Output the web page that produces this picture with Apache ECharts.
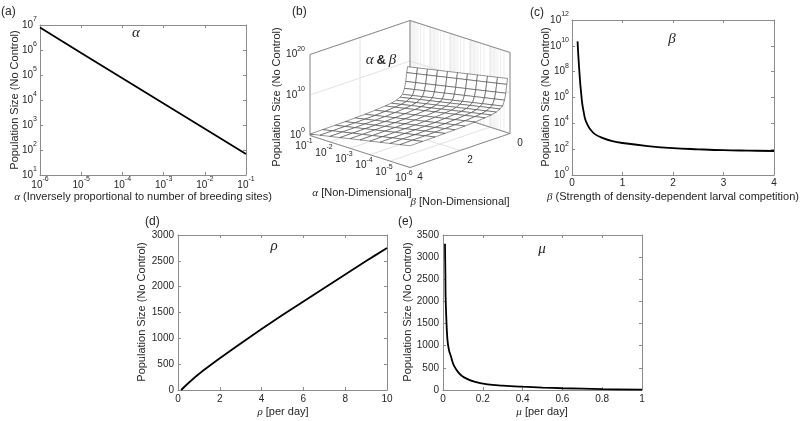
<!DOCTYPE html>
<html><head><meta charset="utf-8">
<script src="https://cdn.jsdelivr.net/npm/echarts@6/dist/echarts.min.js"></script>
<style>html,body{margin:0;padding:0;background:#fff}#c{width:800px;height:421px}</style>
</head><body><div id="c"></div>
<script>
// ---------------- DATA ----------------
// (a) population vs alpha (log-log)
const alphaA = [1e-6, 1e-5, 1e-4, 1e-3, 1e-2, 1e-1];
const popA = [7.9e6, 7.6e5, 7.4e4, 7.2e3, 7.1e2, 69];

// (c) population vs beta (log y)
const betaC = [0.11, 0.12, 0.13, 0.15, 0.165, 0.18, 0.2, 0.23, 0.26, 0.3, 0.36, 0.46, 0.6, 0.8, 1.0, 1.5, 2.0, 2.5, 3.0, 3.5, 4.0];
const popC = [2.2e10, 4e9, 9e8, 6e7, 1e7, 2.5e6, 4e5, 8e4, 2.2e4, 9e3, 3.5e3, 1.4e3, 760, 420, 300, 175, 120, 98, 83, 77, 72];

// (d) population vs rho
const rhoD = [0.15, 0.5, 1, 2, 3, 4, 5, 6, 7, 8, 9, 10];
const popD = [0, 135, 310, 613, 900, 1180, 1450, 1715, 1975, 2235, 2495, 2750];

// (e) population vs mu
const muE = [0.01, 0.012, 0.013, 0.016, 0.022, 0.03, 0.039, 0.055, 0.08, 0.106, 0.157, 0.224, 0.3, 0.4, 0.5, 0.6, 0.8, 1.0];
const popE = [3300, 2600, 2125, 1700, 1150, 900, 773, 548, 383, 285, 188, 128, 100, 75, 55, 40, 20, 8];

// (b) surface: log10(population) over alpha exponent (columns) and beta (rows)
const surfAlphaExp = [-6, -5.5, -5, -4.5, -4, -3.5, -3, -2.5, -2, -1.5, -1];
const surfBeta = [0.1, 0.13, 0.17, 0.22, 0.3, 0.4, 0.55, 0.75, 1.0, 1.4, 1.8, 2.2, 2.6, 3.0, 3.5, 4.0];
const surfLogN = [
  [13.8, 13.3, 12.8, 12.3, 11.8, 11.3, 10.8, 10.3, 9.8, 9.3, 8.8],
  [12.4, 11.9, 11.4, 10.9, 10.4, 9.9, 9.4, 8.9, 8.4, 7.9, 7.4],
  [10.3, 9.8, 9.3, 8.8, 8.3, 7.8, 7.3, 6.8, 6.3, 5.8, 5.3],
  [8.7, 8.2, 7.7, 7.2, 6.7, 6.2, 5.7, 5.2, 4.7, 4.2, 3.7],
  [7.4, 6.9, 6.4, 5.9, 5.4, 4.9, 4.4, 3.9, 3.4, 2.9, 2.4],
  [6.9, 6.4, 5.9, 5.4, 4.9, 4.4, 3.9, 3.4, 2.9, 2.4, 1.9],
  [6.45, 5.95, 5.45, 4.95, 4.45, 3.95, 3.45, 2.95, 2.45, 1.95, 1.45],
  [6.15, 5.65, 5.15, 4.65, 4.15, 3.65, 3.15, 2.65, 2.15, 1.65, 1.15],
  [5.98, 5.48, 4.98, 4.48, 3.98, 3.48, 2.98, 2.48, 1.98, 1.48, 0.98],
  [5.78, 5.28, 4.78, 4.28, 3.78, 3.28, 2.78, 2.28, 1.78, 1.28, 0.78],
  [5.63, 5.13, 4.63, 4.13, 3.63, 3.13, 2.63, 2.13, 1.63, 1.13, 0.63],
  [5.54, 5.04, 4.54, 4.04, 3.54, 3.04, 2.54, 2.04, 1.54, 1.04, 0.54],
  [5.48, 4.98, 4.48, 3.98, 3.48, 2.98, 2.48, 1.98, 1.48, 0.98, 0.48],
  [5.43, 4.93, 4.43, 3.93, 3.43, 2.93, 2.43, 1.93, 1.43, 0.93, 0.43],
  [5.39, 4.89, 4.39, 3.89, 3.39, 2.89, 2.39, 1.89, 1.39, 0.89, 0.39],
  [5.36, 4.86, 4.36, 3.86, 3.36, 2.86, 2.36, 1.86, 1.36, 0.86, 0.36]
];
const zTicksB = [0, 10, 20];
const alphaTicksB = [-1, -2, -3, -4, -5, -6];
const betaTicksB = [0, 2, 4];

// ---------------- STYLE ----------------
const TXT = '#262626', FRAME = '#8c8c8c', GRIDC = '#e2e2e2', MINC = '#efefef';
const FONT = 'Liberation Sans, Arial, sans-serif';
const SERIF = 'Liberation Serif, DejaVu Serif, serif';

function supFmt(v) { const e = Math.round(Math.log10(v)); return '{b|10}{s|' + e + '}'; }
function plainFmt(v) { return String(v); }
const richSup = {
  b: {fontSize: 10, fontFamily: FONT, color: TXT, lineHeight: 18, verticalAlign: 'middle'},
  s: {fontSize: 7, fontFamily: FONT, color: TXT, verticalAlign: 'top'}
};
const richSupG = {
  b: {fontSize: 10, fontFamily: FONT, fill: TXT, lineHeight: 18, verticalAlign: 'middle'},
  s: {fontSize: 7, fontFamily: FONT, fill: TXT, verticalAlign: 'top'}
};

const grids = [
  {left: 40, top: 25, width: 206, height: 150},   // a
  {left: 572, top: 20, width: 202, height: 155},  // c
  {left: 178, top: 235, width: 209, height: 155}, // d
  {left: 443, top: 235, width: 199, height: 155}, // e
  {left: 0, top: 0, width: 800, height: 421}      // b (projection plane)
];

const xSpecs = [
  {type: 'log', min: 1e-6, max: 1e-1, logBase: 10, fmt: supFmt, margin: 1},
  {type: 'value', min: 0, max: 4, interval: 1, fmt: plainFmt, margin: 3},
  {type: 'value', min: 0, max: 10, interval: 2, fmt: plainFmt, margin: 4},
  {type: 'value', min: 0, max: 1, interval: 0.2, fmt: plainFmt, margin: 4}
];
const ySpecs = [
  {type: 'log', min: 10, max: 1e7, logBase: 10, fmt: supFmt, margin: 3},
  {type: 'log', min: 1, max: 1e12, logBase: 100, fmt: supFmt, margin: 3},
  {type: 'value', min: 0, max: 3000, interval: 500, fmt: plainFmt, margin: 4},
  {type: 'value', min: 0, max: 3500, interval: 500, fmt: plainFmt, margin: 4}
];

function mkAxis(spec, gi, pos, withLabels) {
  const a = {
    type: spec.type, min: spec.min, max: spec.max, gridIndex: gi, position: pos,
    axisLine: {show: true, onZero: false, lineStyle: {color: FRAME, width: 1}},
    axisTick: {show: true, inside: true, length: 3, lineStyle: {color: FRAME}},
    splitLine: {show: false},
    axisLabel: {show: false}
  };
  if (spec.logBase) a.logBase = spec.logBase;
  if (spec.interval) a.interval = spec.interval;
  if (withLabels) {
    a.axisLabel = {show: true, color: TXT, fontSize: 10, fontFamily: FONT, margin: spec.margin, formatter: spec.fmt};
    if (spec.type === 'log') a.axisLabel.rich = richSup;
  }
  return a;
}
const xAxis = [], yAxis = [];
for (let g = 0; g < 4; g++) {
  xAxis.push(mkAxis(xSpecs[g], g, 'bottom', true));
  xAxis.push(mkAxis(xSpecs[g], g, 'top', false));
  yAxis.push(mkAxis(ySpecs[g], g, 'left', true));
  yAxis.push(mkAxis(ySpecs[g], g, 'right', false));
}
xAxis.push({type: 'value', gridIndex: 4, min: 0, max: 800, show: false});
yAxis.push({type: 'value', gridIndex: 4, min: 0, max: 421, inverse: true, show: false});

function zip(a, b) { return a.map((v, i) => [v, b[i]]); }
function lineSeries(xi, yi, data, smooth) {
  return {type: 'line', xAxisIndex: xi, yAxisIndex: yi, data: data, showSymbol: false, symbol: 'none',
          smooth: smooth || false, lineStyle: {color: '#000', width: 1.8}, silent: true, z: 5};
}

// ---------------- (b) oblique projection ----------------
function projB(ae, b, z) {
  const u = (-1 - ae) / 5, v = b / 4;
  return [410 + 100 * u - 100 * v, 101.5 + 32 * u + 34 * v - z * 81 / 20];
}
const backSegs = [], frontSegs = [];
function seg(list, p, q, color, w) { list.push({p: p, q: q, color: color, w: w}); }
for (let d = -6; d < -1; d++) for (let k = 2; k <= 9; k++) {
  const ae = d + Math.log10(k);
  seg(backSegs, projB(ae, 0, 0), projB(ae, 0, 20), MINC, 1);
}
alphaTicksB.forEach(ae => {
  seg(backSegs, projB(ae, 0, 0), projB(ae, 0, 20), GRIDC, 1);
  seg(backSegs, projB(ae, 0, 0), projB(ae, 4, 0), GRIDC, 1);
});
betaTicksB.forEach(b => {
  seg(backSegs, projB(-1, b, 0), projB(-1, b, 20), GRIDC, 1);
  seg(backSegs, projB(-1, b, 0), projB(-6, b, 0), GRIDC, 1);
});
zTicksB.forEach(z => {
  seg(backSegs, projB(-1, 0, z), projB(-1, 4, z), GRIDC, 1);
  seg(backSegs, projB(-1, 0, z), projB(-6, 0, z), GRIDC, 1);
});
[[-1, 4], [-1, 0], [-6, 0]].forEach(([ae, b]) => seg(backSegs, projB(ae, b, 0), projB(ae, b, 20), FRAME, 1));
seg(backSegs, projB(-1, 4, 20), projB(-1, 0, 20), FRAME, 1);
seg(backSegs, projB(-1, 0, 20), projB(-6, 0, 20), FRAME, 1);
seg(backSegs, projB(-1, 4, 0), projB(-1, 0, 0), FRAME, 1);
seg(backSegs, projB(-1, 0, 0), projB(-6, 0, 0), FRAME, 1);
seg(frontSegs, projB(-1, 4, 0), projB(-6, 4, 0), FRAME, 1);
seg(frontSegs, projB(-6, 4, 0), projB(-6, 0, 0), FRAME, 1);

function segSeries(list, z) {
  return {type: 'custom', coordinateSystem: 'cartesian2d', xAxisIndex: 8, yAxisIndex: 8, silent: true, clip: false, z: z,
    data: list.map((s, i) => [i, 0]),
    renderItem: (params, api) => {
      const s = list[params.dataIndex];
      const a = api.coord(s.p), b = api.coord(s.q);
      return {type: 'line', shape: {x1: a[0], y1: a[1], x2: b[0], y2: b[1]}, style: {stroke: s.color, lineWidth: s.w}};
    }};
}
const cells = [];
for (let i = 0; i < surfBeta.length - 1; i++) for (let j = 0; j < surfAlphaExp.length - 1; j++) cells.push([i, j]);
function depth(c) {
  const ae = (surfAlphaExp[c[1]] + surfAlphaExp[c[1] + 1]) / 2, b = (surfBeta[c[0]] + surfBeta[c[0] + 1]) / 2;
  return 32 * (-1 - ae) / 5 + 34 * b / 4;
}
cells.sort((p, q) => depth(p) - depth(q));
const surfSeries = {
  type: 'custom', coordinateSystem: 'cartesian2d', xAxisIndex: 8, yAxisIndex: 8, silent: true, clip: false, z: 3,
  data: cells,
  renderItem: (params, api) => {
    const c = cells[params.dataIndex], i = c[0], j = c[1];
    const pts = [[i, j], [i, j + 1], [i + 1, j + 1], [i + 1, j]].map(([r, k]) =>
      api.coord(projB(surfAlphaExp[k], surfBeta[r], surfLogN[r][k])));
    return {type: 'polygon', shape: {points: pts}, style: {fill: '#fff', stroke: '#3a3a3a', lineWidth: 0.55}};
  }
};

// ---------------- TEXT ----------------
const G = [];
function txt(x, y, text, o) {
  o = o || {};
  G.push({type: 'text', x: x, y: y, rotation: o.rot || 0, silent: true, z: 100,
    style: {text: text, fill: TXT, fontSize: o.size || 10, fontFamily: o.family || FONT,
      fontStyle: o.style || 'normal', fontWeight: o.weight || 'normal',
      align: o.align || 'center', verticalAlign: o.va || 'middle',
      textAlign: o.align || 'center', textVerticalAlign: o.va || 'middle', rich: o.rich}});
}
const richG = {
  g: {fontFamily: SERIF, fontStyle: 'italic', fontSize: 11, fill: TXT},
  t: {fontFamily: FONT, fontSize: 11, fill: TXT}
};
const richTitle = {
  g: {fontFamily: SERIF, fontStyle: 'italic', fontSize: 15, fill: TXT},
  a: {fontFamily: FONT, fontWeight: 'bold', fontSize: 13, fill: TXT}
};
txt(1, 12, '(a)', {size: 12, align: 'left'});
txt(292, 12, '(b)', {size: 12, align: 'left'});
txt(530, 13, '(c)', {size: 12, align: 'left'});
txt(145, 222, '(d)', {size: 12, align: 'left'});
txt(398, 222, '(e)', {size: 12, align: 'left'});
txt(136, 33, '{g|α}', {rich: richTitle});
txt(672, 39, '{g|β}', {rich: richTitle});
txt(274, 246, '{g|ρ}', {rich: richTitle});
txt(542, 249, '{g|μ}', {rich: richTitle});
txt(381, 60, '{g|α} {a|&} {g|β}', {rich: richTitle});
const YT = 'Population Size (No Control)';
txt(15, 100, YT, {size: 11, rot: Math.PI / 2});
txt(546, 97, YT, {size: 11, rot: Math.PI / 2});
txt(142, 312, YT, {size: 11, rot: Math.PI / 2});
txt(408, 312, YT, {size: 11, rot: Math.PI / 2});
txt(277, 97, YT, {size: 11, rot: Math.PI / 2});
txt(143, 197, '{g|α}{t| (Inversely proportional to number of breeding sites)}', {rich: richG});
txt(673, 197, '{g|β}{t| (Strength of density-dependent larval competition)}', {rich: richG});
txt(283, 412, '{g|ρ}{t| [per day]}', {rich: richG});
txt(542, 412, '{g|μ}{t| [per day]}', {rich: richG});
txt(362, 193, '{g|α}{t| [Non-Dimensional]}', {rich: richG});
txt(460, 202, '{g|β}{t| [Non-Dimensional]}', {rich: richG});
zTicksB.forEach(z => { const p = projB(-1, 4, z); txt(p[0] - 5, p[1], '{b|10}{s|' + z + '}', {align: 'right', rich: richSupG}); });
alphaTicksB.forEach(ae => { const p = projB(ae, 4, 0); txt(p[0] - 6, p[1] + 11, '{b|10}{s|' + ae + '}', {rich: richSupG}); });
betaTicksB.forEach(b => { const p = projB(-6, b, 0); txt(p[0] + 10, p[1] + 10, String(b), {}); });

const option = {
  animation: false,
  backgroundColor: '#fff',
  grid: grids,
  xAxis: xAxis,
  yAxis: yAxis,
  series: [
    lineSeries(0, 0, zip(alphaA, popA), false),
    lineSeries(2, 2, zip(betaC, popC), 0.4),
    lineSeries(4, 4, zip(rhoD, popD), 0.3),
    lineSeries(6, 6, zip(muE, popE), 0.4),
    segSeries(backSegs, 2),
    surfSeries,
    segSeries(frontSegs, 4)
  ],
  graphic: G
};
const chart = echarts.init(document.getElementById('c'));
chart.setOption(option);
</script></body></html>
